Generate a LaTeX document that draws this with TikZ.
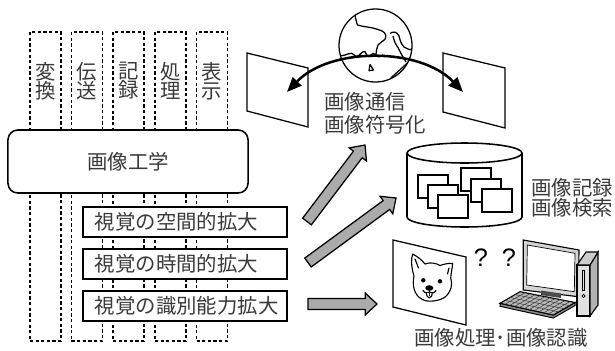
\documentclass[tikz,border=0pt]{standalone}
\usepackage{fontspec}
\newfontfamily\jp{Noto Sans CJK JP}
\newfontfamily\qfont{Liberation Sans}
\usetikzlibrary{arrows.meta, calc}
\definecolor{cText}{HTML}{3A3A3A}
\definecolor{cFat}{HTML}{ABABAB}
\definecolor{cBezel}{HTML}{D4D4D4}
\definecolor{cKeys}{HTML}{B8B8B8}

% --- Helper: fat gray arrow from #1 to #2 (tip at #2) ---
\newcommand{\fatarrow}[2]{%
    \draw[fatarr] let \p1=($(#2)-(#1)$), \n1={atan2(\y1,\x1)}, \n2={veclen(\x1,\y1)-8.3pt} in
        ($(#1)+(\n1+90:3.9pt)$) -- ($(#1)+(\n1:\n2)+(\n1+90:3.9pt)$)
        -- ($(#1)+(\n1:\n2)+(\n1+90:7.7pt)$) -- (#2)
        -- ($(#1)+(\n1:\n2)+(\n1-90:7.7pt)$) -- ($(#1)+(\n1:\n2)+(\n1-90:3.9pt)$)
        -- ($(#1)+(\n1-90:3.9pt)$) -- cycle;
}

\begin{document}
\begin{tikzpicture}[
    x=0.025cm, y=-0.025cm,
    jtxt/.style={font=\jp\fontsize{14.5}{16.4}\selectfont, text=cText, inner sep=0pt},
    colbox/.style={draw, line width=0.9pt, dash pattern=on 2.3pt off 1.7pt,
        minimum width=0.775cm, minimum height=7.725cm, inner sep=0pt},
    engbox/.style={draw, fill=white, rounded corners=7pt, line width=1.1pt,
        minimum width=6cm, minimum height=1.575cm},
    ebox/.style={draw, fill=white, line width=0.9pt, jtxt, inner xsep=0.3cm,
        text width=4.5cm, align=left, minimum height=0.75cm},
    fatarr/.style={draw=black, fill=cFat, line width=0.9pt, line join=miter},
    scr/.style={draw, fill=white, line width=0.9pt},
    arcarr/.style={{Triangle[length=10.5pt, width=8.5pt]}-{Triangle[length=10.5pt, width=8.5pt]},
        line width=1.8pt},
    coast/.style={line width=0.9pt, line join=round},
    docbox/.style={draw, fill=white, line width=1.1pt},
    dogln/.style={line width=0.8pt, line join=round, line cap=round},
]
\useasboundingbox (0,0) rectangle (615,350);

% =============================================
% DASHED COLUMNS: transform / transmit / record / process / display
% =============================================
\foreach \cx/\ca/\cb/\nm in {45.5/変/換/conv, 87/伝/送/trans, 128.5/記/録/rec,
                             170.5/処/理/proc, 212/表/示/disp} {
    \node[colbox] (col-\nm) at (\cx, 186.5) {};
    \node[jtxt, align=center, font=\jp\fontsize{14.5}{13.6}\selectfont] (lab-\nm) at (\cx, 81) {\ca\\\cb};
}

% =============================================
% IMAGE ENGINEERING BOX + THREE EXTENSIONS
% =============================================
\node[engbox, jtxt] (eng) at (128, 161.5) {画像工学};

\node[ebox] (spatial) at (185, 222) {視覚の空間的拡大};
\node[ebox] (temporal) at (185, 264) {視覚の時間的拡大};
\node[ebox] (ident) at (185, 306) {視覚の識別能力拡大};

% =============================================
% COMMUNICATION: globe, two screens, curved arrow
% =============================================
\draw[scr] (247,53) -- (308,68) -- (308,127) -- (247,111) -- cycle;
\draw[scr] (443,53) -- (505,68) -- (505,128) -- (443,112) -- cycle;

\node[circle, draw, line width=0.9pt, minimum size=1.825cm, inner sep=0pt] (globe) at (375.5, 45.5) {};
\begin{scope}[coast]
    \clip (globe.center) circle (0.9cm);
    % coast lines
    \draw (354,12) .. controls (356,18) and (356,22) .. (357.5,25)
        .. controls (363,27) and (372,27) .. (378,29.5)
        .. controls (384,31) and (387,34) .. (385.5,38.5)
        .. controls (384,41) and (380,42) .. (378,45)
        .. controls (376,48) and (377,51) .. (376,54);
    \draw (390,33.5) .. controls (393,31) and (397,31.5) .. (399,36)
        .. controls (400,40) and (401,44) .. (404,47)
        .. controls (407,49) and (410,50) .. (413,50);
    \draw (393,36) .. controls (394,41) and (396,45) .. (398,47.5)
        .. controls (400,52) and (403,57) .. (406,62);
    \draw plot[smooth, tension=0.7] coordinates {(340,56) (345,55) (351.7,53.3) (356.7,56.7)
        (361.7,52.7) (365,51.7) (368.3,56.7) (373.3,53.3) (378.3,56.7) (383,55)};
    \draw (370,64.5) -- (373.5,70) -- (369,70.7) -- cycle;
    \draw (390,79) .. controls (395,74) and (402,68) .. (409,61.5);
\end{scope}

\coordinate (lscr) at (287,92);
\coordinate (rscr) at (463,92);
\draw[arcarr] (lscr) .. controls (330,47) and (420,47) .. (rscr);

\node[jtxt, anchor=west, align=left] (comm) at (324, 113) {画像通信\\画像符号化};

% =============================================
% STORAGE: database cylinder with stacked images
% =============================================
\draw[line width=1.1pt, fill=white] (407,153) -- (407,217)
    arc[start angle=180, end angle=0, x radius=57.5, y radius=10] -- (522,153);
\draw[line width=1.1pt] (464.5,153) ellipse [x radius=57.5, y radius=10];

\foreach \ax/\ay in {418/175, 428/185, 438/195, 461/168, 471/179, 482/189} {
    \draw[docbox] (\ax,\ay) rectangle ++(30,23);
}

\node[jtxt, anchor=west, align=left, font=\jp\fontsize{14.5}{14.6}\selectfont] (store) at (531, 198) {画像記録\\画像検索};

% =============================================
% RECOGNITION: dog picture and computer
% =============================================
\draw[scr] (393,240) -- (466,257) -- (466,325) -- (393,307) -- cycle;

% dog face
\draw[dogln] (414,276) .. controls (411,266) and (411,259) .. (412.7,254)
    .. controls (418,257) and (422,260) .. (425,264)
    .. controls (430,262) and (436,263) .. (440,265.5)
    .. controls (444,264) and (449,263) .. (452.7,263.5)
    .. controls (452,269) and (451,274) .. (450.7,278)
    .. controls (453,285) and (451,292) .. (445,297)
    .. controls (440,301) and (427,303) .. (421.7,299)
    .. controls (414,295) and (412,285) .. (414,276) -- cycle;
\draw[dogln] (415,259) -- (418.5,268);
\draw[dogln] (449,268) -- (447.5,274);
\fill (423.3,280.3) circle (0.055cm);
\fill (440,281.3) circle (0.055cm);
\fill (429.3,288) ellipse [x radius=0.1cm, y radius=0.07cm];
\draw[dogln] (429.3,289.5) -- (429.3,292);
\draw[dogln] (423,290.5) .. controls (425,293.5) and (428,293.5) .. (429.3,292)
    .. controls (431,293.5) and (434,293.5) .. (436,290.5);
\draw[dogln, fill=white] (426.4,292.6) .. controls (426.4,299.5) and (432.2,299.5) .. (432.2,292.6);
\draw[dogln] (429.3,293) -- (429.3,295.5);

\node[font=\qfont\fontsize{18}{18}\selectfont, inner sep=0pt] (q1) at (481, 258) {?};
\node[font=\qfont\fontsize{18}{18}\selectfont, inner sep=0pt] (q2) at (509, 258) {?};

% monitor
\draw[line width=0.8pt, fill=cBezel] (523.3,240) -- (579,250) -- (578.3,296.7) -- (523.3,290) -- cycle;
\draw[line width=0.5pt, fill=white] (527.3,245) -- (575,253.3) -- (574.3,291.7) -- (526.7,285) -- cycle;
\fill[black!70] (541,290.5) -- (561,293.5) -- (561,298) -- (541,295) -- cycle;

% keyboard
\coordinate (kb-bl) at (520,291.7);
\coordinate (kb-br) at (575,302.5);
\coordinate (kb-fr) at (553.3,315);
\coordinate (kb-fl) at (500,303.3);
\draw[line width=0.7pt, fill=black!45] (kb-fl) -- (kb-fr) -- (kb-br) -- ++(0,3) -- ($(kb-fr)+(0,3)$) -- ($(kb-fl)+(0,3)$) -- cycle;
\draw[line width=0.8pt, fill=cKeys] (kb-bl) -- (kb-br) -- (kb-fr) -- (kb-fl) -- cycle;
\foreach \krow in {1,2,3}
    \draw[line width=0.4pt, black!75] ($(kb-bl)!\krow/4!(kb-fl)$) -- ($(kb-br)!\krow/4!(kb-fr)$);
\foreach \kcol in {1,...,10}
    \draw[line width=0.4pt, black!75] ($(kb-bl)!\kcol/11!(kb-br)$) -- ($(kb-fl)!\kcol/11!(kb-fr)$);

% tower
\draw[line width=0.8pt, fill=black!12] (577,265) -- (590,265) -- (590,316) -- (577,316) -- cycle;
\draw[line width=0.8pt, fill=black!30] (590,265) -- (598,252) -- (598,305) -- (590,316) -- cycle;
\draw[line width=0.8pt, fill=black!20] (577,265) -- (586,252) -- (598,252) -- (590,265) -- cycle;
\draw[line width=0.5pt] (582.3,270) rectangle (584.7,290);
\draw[line width=0.5pt] (583.5,296) circle (0.04cm);

\node[jtxt] (recog) at (501, 338) {画像処理･画像認識};

% =============================================
% FAT ARROWS from the three extensions
% =============================================
\coordinate (a1s) at (307,221.5);
\coordinate (a1e) at (365,145);
\coordinate (a2s) at (308,262.5);
\coordinate (a2e) at (396,198);
\coordinate (a3s) at (308,304);
\coordinate (a3e) at (377,304);
\fatarrow{a1s}{a1e}
\fatarrow{a2s}{a2e}
\fatarrow{a3s}{a3e}

\end{tikzpicture}
\end{document}
